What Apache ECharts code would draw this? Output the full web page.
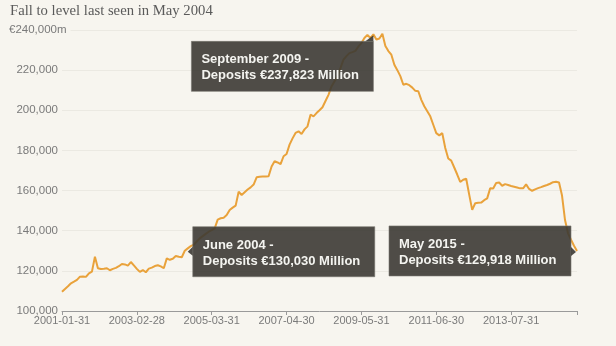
<!DOCTYPE html>
<html>
<head>
<meta charset="utf-8">
<script src="https://cdn.jsdelivr.net/npm/echarts@6/dist/echarts.min.js"></script>
<style>
html,body{margin:0;padding:0;background:#f7f5ef;}
#c{width:616px;height:346px;}
</style>
</head>
<body>
<div id="c"></div>
<script>
// Monthly deposits, Jan 2001 - May 2015 (EUR million)
const startYear = 2001, startMonth = 0, monthCount = 173;
const deposits = [
109600,111000,112300,113800,114600,115500,117100,117200,117000,118800,119600,127000,
121300,120900,121000,121300,120300,121000,121500,122300,123400,123200,122600,124400,
122700,121000,119500,120400,119300,121100,121600,122400,122800,122200,121300,126200,
125500,126000,127400,127000,126800,130030,131200,132300,133000,134600,136200,137300,
138400,139500,140300,141200,145500,146200,146500,147800,150300,151500,152500,159400,
157800,159200,160500,161600,163000,166600,166900,167000,167000,167100,172000,174600,
174000,173200,177100,178200,182900,186000,188700,189500,188200,190500,192000,197800,
197000,198600,200000,201500,204600,207700,211900,214400,216900,221000,225200,227000,
228500,229000,229600,231800,233500,236000,237600,236000,237823,235300,235800,238100,
232000,229500,227700,222700,220000,217000,212700,213200,212500,211300,209700,209500,
205200,202000,199500,197000,192800,188600,187500,188600,181200,176000,174900,171500,
168000,164300,165400,165900,158000,150400,153700,153900,154000,155200,156100,161100,
161000,163800,164000,162400,163200,162800,162300,161900,161500,161100,161100,163100,
160800,159900,160600,161200,161700,162300,162800,163400,164200,164400,164000,157500,
145300,138700,135500,132500,129918
];
const yTicks = {min:100000, max:240000, step:20000};
const subtitle = 'Fall to level last seen in May 2004';
const topLabel = '€240,000m';
const annotations = [
  {index:104, lines:['September 2009 -','Deposits €237,823 Million']},
  {index:41,  lines:['June 2004 -','Deposits €130,030 Million']},
  {index:172, lines:['May 2015 -','Deposits €129,918 Million']}
];

const categories = [];
for (let i = 0; i < monthCount; i++) {
  const d = new Date(Date.UTC(startYear, startMonth + i + 1, 0));
  categories.push(d.toISOString().slice(0,10));
}

const chart = echarts.init(document.getElementById('c'));
const FONT = '"Liberation Sans", Arial, sans-serif';
chart.setOption({
  backgroundColor:'#f7f5ef',
  animation:false,
  grid:{left:62, right:39, top:30, bottom:35},
  xAxis:{
    type:'category', data:categories, boundaryGap:false,
    axisLine:{lineStyle:{color:'#9a9a9a', width:1}},
    axisTick:{show:true, length:4, lineStyle:{color:'#9a9a9a'},
      interval:(i)=> i%25===0 || i===monthCount-1},
    axisLabel:{interval:(i)=> i%25===0, color:'#7a7a7a', fontSize:11, fontFamily:FONT, margin:4, hideOverlap:false},
    splitLine:{show:false}
  },
  yAxis:{
    type:'value', min:yTicks.min, max:yTicks.max, interval:yTicks.step,
    axisLine:{show:false}, axisTick:{show:false},
    axisLabel:{color:'#7a7a7a', fontSize:11.5, fontFamily:FONT, margin:4,
      formatter:(v)=> v===yTicks.max ? '' : v.toLocaleString('en-US')},
    splitLine:{lineStyle:{color:'#ebe9e2', width:1}}
  },
  series:[{
    type:'line', data:deposits, showSymbol:false, symbol:'none',
    lineStyle:{color:'#e9a23b', width:2}, z:2
  }]
});

// annotations anchored to data points
const g = [];
g.push({type:'text', left:10, top:4, style:{text:subtitle, fill:'#5a5a5a', font:'14.7px "Liberation Serif", Georgia, serif'}});
const yTop = chart.convertToPixel({yAxisIndex:0}, yTicks.max);
g.push({type:'text', left:9, top:yTop-7, z:5, style:{text:topLabel, fill:'#7a7a7a', font:'11.5px '+FONT, backgroundColor:'#f7f5ef', padding:[1,4,1,0]}});

const boxFill = 'rgba(60,58,52,0.9)';
const boxW = 182, boxH = 50;
annotations.forEach((a, k) => {
  const p = chart.convertToPixel({seriesIndex:0}, [a.index, deposits[a.index]]);
  let bx, by, ptr;
  if (k === 0) {
    bx = p[0] - boxW; by = p[1] + 7;
    ptr = [[p[0]-8, by], [p[0], by], [p[0], by-6]];
  } else if (k === 1) {
    bx = p[0] + 8; by = p[1] - 24;
    ptr = [[bx, p[1]-4], [bx-5, p[1]+1], [bx, p[1]+5]];
  } else {
    bx = p[0] - 7 - boxW + 1; by = p[1] - 25;
    ptr = [[bx+boxW, p[1]-4], [bx+boxW+5, p[1]+1], [bx+boxW, p[1]+5]];
  }
  g.push({type:'rect', z:10, shape:{x:bx, y:by, width:boxW, height:boxH},
    style:{fill:boxFill, stroke:'rgba(120,118,112,0.6)', lineWidth:1}});
  g.push({type:'polygon', z:10, shape:{points:ptr}, style:{fill:boxFill}});
  g.push({type:'text', z:11, x:bx+10, y:by+12, style:{text:a.lines[0], fill:'#f4f4f0', font:'bold 13px '+FONT}});
  g.push({type:'text', z:11, x:bx+10, y:by+28, style:{text:a.lines[1], fill:'#f4f4f0', font:'bold 13px '+FONT}});
});
chart.setOption({graphic:g});
</script>
</body>
</html>
